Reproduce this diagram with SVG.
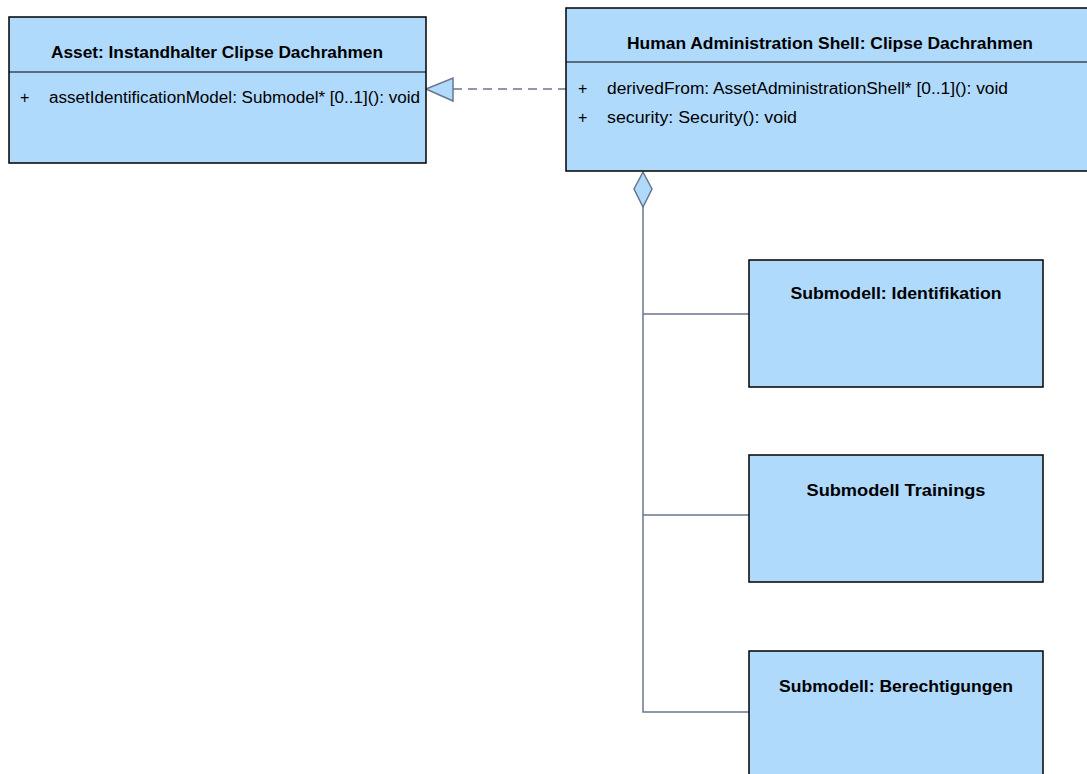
<svg xmlns="http://www.w3.org/2000/svg" width="1087" height="774" viewBox="0 0 1087 774">
  <style>
    .box { fill: #B0DAFC; stroke: #000000; stroke-width: 1.5; }
    .div { stroke: #000000; stroke-width: 1.2; }
    .title { font-family: "Liberation Sans", Arial, sans-serif; font-weight: bold; font-size: 16px; fill: #000000; text-anchor: middle; }
    .attr { font-family: "Liberation Sans", Arial, sans-serif; font-size: 16px; fill: #000000; }
    .conn { fill: none; stroke: #6B7590; stroke-width: 1.5; }
    .head { fill: #B0DAFC; stroke: #6B7590; stroke-width: 1.5; }
  </style>
  <rect width="1087" height="774" fill="#FFFFFF"/>

  <!-- connectors -->
  <g id="connectors">
    <!-- realization: shell to asset -->
    <line class="conn" x1="453" y1="89" x2="566" y2="89" stroke-dasharray="9,6"/>
    <polygon class="head" points="426,89 453,78 453,101"/>
    <!-- composition: shell owns submodels -->
    <polyline class="conn" points="643,207 643,712 750,712"/>
    <line class="conn" x1="643" y1="314" x2="750" y2="314"/>
    <line class="conn" x1="643" y1="515" x2="750" y2="515"/>
    <polygon class="head" points="643,172 652,189 643,207 634,189"/>
  </g>

  <g id="asset">
    <rect class="box" x="9" y="17" width="417" height="146"/>
    <line class="div" x1="9" y1="72" x2="426" y2="72"/>
    <text class="title" x="217" y="58" textLength="332" lengthAdjust="spacingAndGlyphs">Asset: Instandhalter Clipse Dachrahmen</text>
    <text class="attr" x="20" y="103">+</text>
    <text class="attr" x="49" y="103" textLength="371" lengthAdjust="spacingAndGlyphs">assetIdentificationModel: Submodel* [0..1](): void</text>
  </g>

  <g id="shell">
    <rect class="box" x="566" y="8" width="528" height="163"/>
    <line class="div" x1="566" y1="62" x2="1094" y2="62"/>
    <text class="title" x="830" y="49" textLength="406" lengthAdjust="spacingAndGlyphs">Human Administration Shell: Clipse Dachrahmen</text>
    <text class="attr" x="578" y="94">+</text>
    <text class="attr" x="607" y="94" textLength="401" lengthAdjust="spacingAndGlyphs">derivedFrom: AssetAdministrationShell* [0..1](): void</text>
    <text class="attr" x="578" y="123">+</text>
    <text class="attr" x="607" y="123" textLength="190" lengthAdjust="spacingAndGlyphs">security: Security(): void</text>
  </g>

  <g id="submodel-identifikation">
    <rect class="box" x="749" y="260" width="294" height="127"/>
    <text class="title" x="896" y="299" textLength="211" lengthAdjust="spacingAndGlyphs">Submodell: Identifikation</text>
  </g>

  <g id="submodel-trainings">
    <rect class="box" x="749" y="455" width="294" height="127"/>
    <text class="title" x="896" y="496" textLength="179" lengthAdjust="spacingAndGlyphs">Submodell Trainings</text>
  </g>

  <g id="submodel-berechtigungen">
    <rect class="box" x="749" y="651" width="294" height="130"/>
    <text class="title" x="896" y="692" textLength="234" lengthAdjust="spacingAndGlyphs">Submodell: Berechtigungen</text>
  </g>
</svg>
